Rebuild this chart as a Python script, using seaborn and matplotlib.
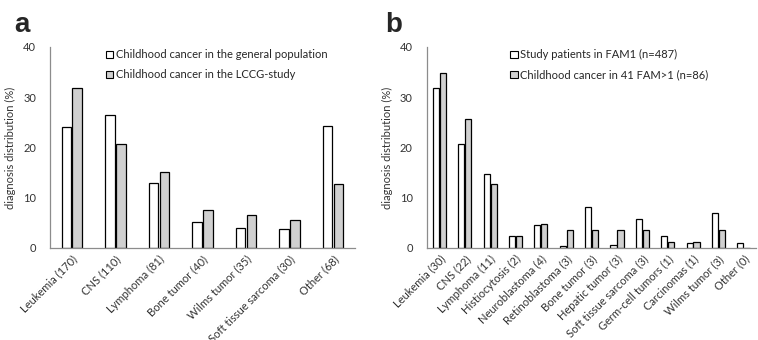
import pandas as pd
import matplotlib.pyplot as plt
import seaborn as sns
from matplotlib.patches import Patch

# panneau a
cats_a = ["Leukemia (170)", "CNS (110)", "Lymphoma (81)", "Bone tumor (40)",
          "Wilms tumor (35)", "Soft tissue sarcoma (30)", "Other (68)"]
general_pop = [24.1, 26.5, 12.9, 5.1, 3.9, 3.7, 24.2]
lccg_study = [31.8, 20.6, 15.2, 7.5, 6.6, 5.6, 12.7]
series_a = ["Childhood cancer in the general population",
            "Childhood cancer in the LCCG-study"]

# panneau b
cats_b = ["Leukemia (30)", "CNS (22)", "Lymphoma (11)", "Histiocytosis (2)",
          "Neuroblastoma (4)", "Retinoblastoma (3)", "Bone tumor (3)",
          "Hepatic tumor (3)", "Soft tissue sarcoma (3)", "Germ-cell tumors (1)",
          "Carcinomas (1)", "Wilms tumor (3)", "Other (0)"]
fam1 = [31.8, 20.6, 14.8, 2.3, 4.5, 0.4, 8.2, 0.6, 5.8, 2.3, 1.0, 7.0, 1.0]
fam_multi = [34.9, 25.6, 12.8, 2.3, 4.7, 3.5, 3.5, 3.5, 3.5, 1.2, 1.2, 3.5, 0.0]
series_b = ["Study patients in FAM1 (n=487)",
            "Childhood cancer in 41 FAM>1 (n=86)"]

sns.set_style("white")
plt.rcParams["font.family"] = ["Lato", "DejaVu Sans"]

GRIS = "#d0d0d0"
AXE = "#8c8c8c"
TXT = "#333333"


def long_df(cats, s1, s2, names):
    return pd.DataFrame({
        "cat": cats + cats,
        "val": s1 + s2,
        "serie": [names[0]] * len(cats) + [names[1]] * len(cats),
    })


def panneau(ax, df, names, width, leg_x, letter, letter_x):
    sns.barplot(data=df, x="cat", y="val", hue="serie", hue_order=names,
                palette=["white", GRIS], edgecolor="black", linewidth=0.9,
                width=width, gap=0.12, legend=False, ax=ax)
    ax.set_ylim(0, 40)
    ax.set_xlim(-0.5, len(df) / 2 - 0.5)
    ax.set_yticks([0, 10, 20, 30, 40])
    ax.set_xlabel("")
    ax.set_ylabel("diagnosis distribution (%)", fontsize=8, color=TXT, labelpad=5)
    for s in ["top", "right"]:
        ax.spines[s].set_visible(False)
    for s in ["left", "bottom"]:
        ax.spines[s].set_color(AXE)
        ax.spines[s].set_linewidth(0.9)
    ax.tick_params(axis="both", length=0, labelsize=8, colors=TXT)
    ax.tick_params(axis="y", pad=10)
    ax.tick_params(axis="x", pad=4)
    plt.setp(ax.get_xticklabels(), rotation=45, ha="right", rotation_mode="anchor")
    handles = [Patch(facecolor="white", edgecolor="black", linewidth=0.8),
               Patch(facecolor=GRIS, edgecolor="black", linewidth=0.8)]
    ax.legend(handles, names, loc="upper left", bbox_to_anchor=(leg_x, 1.01),
              frameon=False, fontsize=8, handlelength=0.65, handleheight=0.65,
              handletextpad=0.25, labelspacing=0.8, borderaxespad=0)
    ax.text(letter_x, 1.074, letter, transform=ax.transAxes, fontsize=20,
            fontweight="bold", family="Liberation Sans", va="baseline")


fig = plt.figure(figsize=(7.58, 3.4), dpi=100)
ax_a = fig.add_axes([0.066, 0.271, 0.402, 0.591])
ax_b = fig.add_axes([0.563, 0.271, 0.435, 0.591])

panneau(ax_a, long_df(cats_a, general_pop, lccg_study, series_a), series_a,
        0.5, 0.17, "a", -0.118)
panneau(ax_b, long_df(cats_b, fam1, fam_multi, series_b), series_b,
        0.55, 0.24, "b", -0.127)

fig.savefig("out.png", dpi=100)
